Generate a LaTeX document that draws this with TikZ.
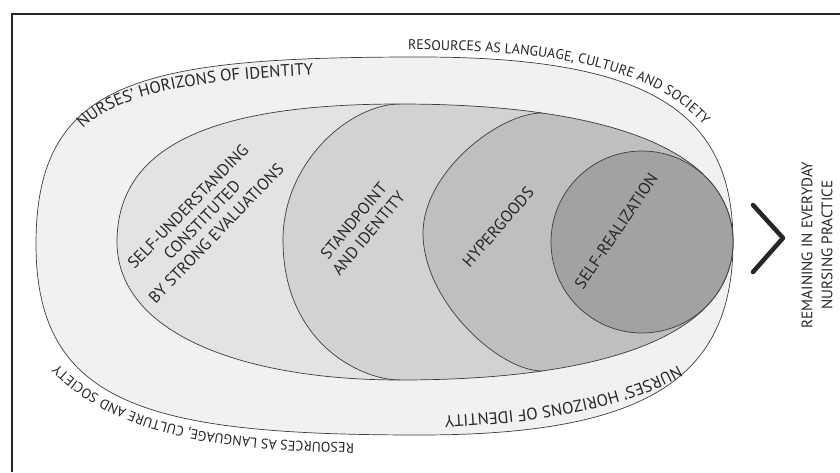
\documentclass[tikz,border=0pt]{standalone}
\usepackage{fontspec}
\setmainfont{PT Sans}
\usetikzlibrary{decorations.text}
\definecolor{band}{HTML}{F1F1F1}
\definecolor{selfund}{HTML}{E3E3E3}
\definecolor{standp}{HTML}{D2D2D2}
\definecolor{hyper}{HTML}{BFBFBF}
\definecolor{selfreal}{HTML}{A2A2A2}
\definecolor{ink}{HTML}{262626}
\newcommand\resfont{\fontsize{14}{14}\selectfont}
\newcommand\horfont{\fontsize{16.6}{16.6}\selectfont}

\begin{document}
\begin{tikzpicture}[x=1pt, y=1pt, rim/.style={draw=ink!90, line width=0.7pt}, lab/.style={font=\fontsize{16.4}{19.5}\selectfont, text=ink, align=center, inner sep=0pt}, arctext/.style={decorate, decoration={text along path, text align=left, text color=ink, text={#1}}}]
	\useasboundingbox (0,0) rectangle (840,472);
	\draw[line width=2.4pt, ink] (12,0) -- (12,458) -- (840,458);
	\filldraw[rim, fill=band] (36,228) .. controls (36,392) and (140,415) .. (420,415) .. controls (650,415) and (733,360) .. (733,230) .. controls (733,96) and (650,37) .. (420,37) .. controls (150,37) and (36,66) .. cycle;
	\fill[selfund] (117,230) .. controls (117,330) and (220,368) .. (400,368) .. controls (600,368) and (733,325) .. (733,230) .. controls (733,135) and (600,92) .. (400,92) .. controls (240,92) and (117,140) .. cycle;
	\begin{scope}
		\clip (117,230) .. controls (117,330) and (220,368) .. (400,368) .. controls (600,368) and (733,325) .. (733,230) .. controls (733,135) and (600,92) .. (400,92) .. controls (240,92) and (117,140) .. cycle;
		\fill[standp] (400,368) .. controls (350,368) and (283,310) .. (283,232) .. controls (283,130) and (360,92) .. (400,92) -- (400,20) -- (760,20) -- (760,440) -- (400,440) -- cycle;
		\draw[rim] (400,368) .. controls (350,368) and (283,310) .. (283,232) .. controls (283,130) and (360,92) .. (400,92);
		\fill[hyper] (543,359) .. controls (500,360) and (423,300) .. (423,239) .. controls (423,170) and (500,100) .. (543,101) -- (543,20) -- (760,20) -- (760,440) -- (543,440) -- cycle;
		\draw[rim] (543,359) .. controls (500,360) and (423,300) .. (423,239) .. controls (423,170) and (500,100) .. (543,101);
	\end{scope}
	\draw[rim] (117,230) .. controls (117,330) and (220,368) .. (400,368) .. controls (600,368) and (733,325) .. (733,230) .. controls (733,135) and (600,92) .. (400,92) .. controls (240,92) and (117,140) .. cycle;
	\filldraw[rim, fill=selfreal] (642,230) circle (91);
	\node[lab, rotate=46] (selfund) at (202,252) {SELF-UNDERSTANDING\\CONSTITUTED\\BY STRONG EVALUATIONS};
	\node[lab, rotate=50] (standp) at (361,245) {STANDPOINT\\AND IDENTITY};
	\node[lab, rotate=49] (hyper) at (498,245) {HYPERGOODS};
	\node[lab, rotate=56] (selfreal) at (616,241) {SELF-REALIZATION};
	\node[lab, rotate=90, font=\fontsize{15.2}{20}\selectfont] (remain) at (817,227) {REMAINING IN EVERYDAY\\NURSING PRACTICE};
	\draw[line width=4.5pt, line cap=round, line join=round, ink] (753,267) -- (783,234) -- (753,200);
	\path[arctext={|\resfont|RESOURCES AS LANGUAGE, CULTURE AND SOCIETY}] (408,422) -- (420,422) .. controls (657,422) and (741,362) .. (741,230);
	\path[arctext={|\horfont|NURSES' HORIZONS OF IDENTITY}] (83,343) .. controls (115,376) and (190,394) .. (345,398);
	\path[arctext={|\resfont|RESOURCES AS LANGUAGE, CULTURE AND SOCIETY}] (354,29) .. controls (200,31) and (100,50) .. (38,130);
	\path[arctext={|\horfont|NURSES' HORIZONS OF IDENTITY}] (678,107) .. controls (630,80) and (560,60) .. (420,55);
\end{tikzpicture}
\end{document}
